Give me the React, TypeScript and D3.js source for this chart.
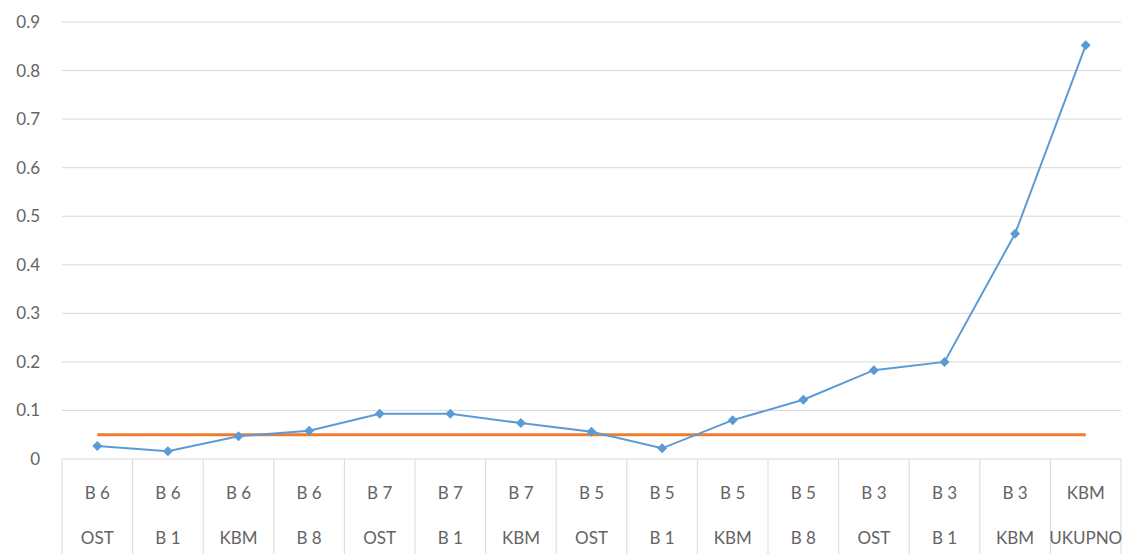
import React from "react";
import * as d3 from "d3";

const categoriesTop = ["B 6", "B 6", "B 6", "B 6", "B 7", "B 7", "B 7", "B 5", "B 5", "B 5", "B 5", "B 3", "B 3", "B 3", "KBM"];
const categoriesBottom = ["OST", "B 1", "KBM", "B 8", "OST", "B 1", "KBM", "OST", "B 1", "KBM", "B 8", "OST", "B 1", "KBM", "UKUPNO"];
const seriesValues = [0.027, 0.016, 0.047, 0.058, 0.093, 0.093, 0.074, 0.056, 0.022, 0.08, 0.122, 0.183, 0.2, 0.464, 0.852];
const thresholdValue = 0.05;
const yTicks = [0, 0.1, 0.2, 0.3, 0.4, 0.5, 0.6, 0.7, 0.8, 0.9];

const W = 1136, H = 554;
const left = 62, right = 1121, top = 22, bottom = 459;

export default function App() {
  const idx = categoriesTop.map((_, i) => String(i));
  const x = d3.scaleBand().domain(idx).range([left, right]);
  const y = d3.scaleLinear().domain([0, 0.9]).range([bottom, top]);
  const cx = (i: number) => (x(String(i)) as number) + x.bandwidth() / 2;
  const line = d3.line<number>().x((_, i) => cx(i)).y((d) => y(d));
  const r = 5;
  const diamond = `M0,${-r}L${r},0L0,${r}L${-r},0Z`;
  const font = "Lato, 'Open Sans', sans-serif";
  const textColor = "#646464";
  return (
    <svg width={W} height={H} style={{ position: "absolute", left: 0, top: 0, background: "#fff" }}>
      <rect x={0} y={0} width={W} height={H} fill="#fff" />
      {yTicks.map((t) => (
        <g key={t}>
          {t > 0 && <line x1={left} x2={right} y1={y(t)} y2={y(t)} stroke="#d9d9d9" strokeWidth={1} />}
          <text x={40} y={y(t)} dy="0.35em" textAnchor="end" fontFamily={font} fontSize={17} fill={textColor}>
            {t === 0 ? "0" : t.toFixed(1)}
          </text>
        </g>
      ))}
      <line x1={left} x2={right} y1={bottom} y2={bottom} stroke="#d9d9d9" strokeWidth={1} />
      {d3.range(categoriesTop.length + 1).map((i) => {
        const xx = i < categoriesTop.length ? (x(String(i)) as number) : right;
        return <line key={i} x1={xx} x2={xx} y1={bottom} y2={H} stroke="#d9d9d9" strokeWidth={1} />;
      })}
      {categoriesTop.map((c, i) => (
        <g key={i}>
          <text x={cx(i)} y={493} dy="0.35em" textAnchor="middle" fontFamily={font} fontSize={17} fill={textColor}>{c}</text>
          <text x={cx(i)} y={538} dy="0.35em" textAnchor="middle" fontFamily={font} fontSize={17} fill={textColor}>{categoriesBottom[i]}</text>
        </g>
      ))}
      <line x1={cx(0)} x2={cx(categoriesTop.length - 1)} y1={y(thresholdValue)} y2={y(thresholdValue)} stroke="#ed7d31" strokeWidth={3} />
      <path d={line(seriesValues) as string} fill="none" stroke="#5b9bd5" strokeWidth={2} />
      {seriesValues.map((v, i) => (
        <path key={i} d={diamond} transform={`translate(${cx(i)},${y(v)})`} fill="#5b9bd5" />
      ))}
    </svg>
  );
}
